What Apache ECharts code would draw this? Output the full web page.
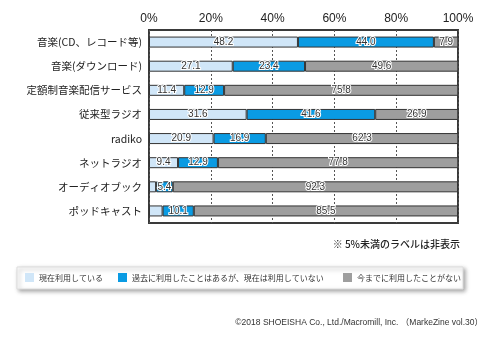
<!DOCTYPE html>
<html>
<head>
<meta charset="utf-8">
<script src="https://cdn.jsdelivr.net/npm/echarts@6/dist/echarts.min.js"></script>
<style>
  html, body { margin: 0; padding: 0; background: #fff; }
  #chart { width: 500px; height: 344px; }
</style>
</head>
<body>
<div id="chart"></div>
<script>
// Usage of audio services (%), stacked to 100 per row
const categories = ['音楽(CD、レコード等)', '音楽(ダウンロード)', '定額制音楽配信サービス', '従来型ラジオ', 'radiko', 'ネットラジオ', 'オーディオブック', 'ポッドキャスト'];
const seriesNames = ['現在利用している', '過去に利用したことはあるが、現在は利用していない', '今までに利用したことがない'];
const currentUse = [48.2, 27.1, 11.4, 31.6, 20.9, 9.4, 2.3, 4.4];
const pastUse = [44.0, 23.4, 12.9, 41.6, 16.9, 12.9, 5.4, 10.1];
const neverUsed = [7.9, 49.6, 75.8, 26.9, 62.3, 77.8, 92.3, 85.5];
const tickLabels = ['0%', '20%', '40%', '60%', '80%', '100%'];
const colors = ['#d0e6f8', '#0a9be3', '#9e9e9e'];

const FONT = '"Liberation Sans", "Noto Sans CJK JP", sans-serif';
const JP = '"Noto Sans CJK JP", sans-serif';

const chart = echarts.init(document.getElementById('chart'), null, { renderer: 'canvas' });

function barSeries(name, values, color) {
  return {
    name: name,
    type: 'bar',
    stack: 'total',
    barWidth: 11,
    data: values,
    itemStyle: { color: color, borderColor: '#333', borderWidth: 1 },
    label: {
      show: true,
      position: 'inside',
      fontFamily: FONT,
      fontSize: 10,
      color: '#333',
      textBorderColor: '#fff',
      textBorderWidth: 2,
      // values under 5% are left unlabeled
      formatter: p => (p.value < 5 ? '' : p.value.toFixed(1))
    }
  };
}

// one legend entry per series, laid out in a single row
const legendLefts = [25, 118, 343];
const legends = seriesNames.map((name, i) => ({
  data: [name],
  left: legendLefts[i], top: 273,
  padding: 0,
  itemWidth: 9, itemHeight: 9,
  icon: 'rect',
  itemStyle: { borderWidth: 0 },
  textStyle: { fontFamily: JP, fontSize: 8, color: '#333' }
}));

chart.setOption({
  animation: false,
  backgroundColor: '#fff',
  grid: {
    left: 149, right: 42, top: 30, bottom: 121,
    show: true, borderColor: '#3a3a3a', borderWidth: 2, backgroundColor: 'transparent'
  },
  xAxis: {
    type: 'value',
    position: 'top',
    min: 0, max: 100, interval: 20,
    axisLine: { show: false },
    axisTick: { show: false },
    axisLabel: {
      margin: 5,
      fontFamily: FONT, fontSize: 12, color: '#222',
      formatter: v => tickLabels[v / 20]
    },
    splitLine: { show: true, lineStyle: { color: '#555', width: 1, type: [2, 2] } }
  },
  yAxis: {
    type: 'category',
    data: categories,
    inverse: true,
    axisLine: { show: false },
    axisTick: { show: false },
    axisLabel: { margin: 7, fontFamily: JP, fontSize: 10.5, color: '#222' }
  },
  legend: legends,
  graphic: [
    {
      type: 'rect', z: -1,
      shape: { x: 17, y: 267, width: 446, height: 22 },
      style: { fill: '#fff', stroke: '#ddd', lineWidth: 1, shadowBlur: 4, shadowOffsetX: 2, shadowOffsetY: 2, shadowColor: 'rgba(0,0,0,0.35)' }
    },
    {
      type: 'text', right: 40, top: 239,
      style: { text: '※ 5%未満のラベルは非表示', font: '500 10px ' + JP, fill: '#222' }
    },
    {
      type: 'text', right: 17, top: 318,
      style: { text: '©2018 SHOEISHA Co., Ltd./Macromill, Inc. （MarkeZine vol.30）', font: '8.5px ' + FONT, fill: '#333' }
    }
  ],
  series: [
    barSeries(seriesNames[0], currentUse, colors[0]),
    barSeries(seriesNames[1], pastUse, colors[1]),
    barSeries(seriesNames[2], neverUsed, colors[2])
  ]
});
</script>
</body>
</html>
